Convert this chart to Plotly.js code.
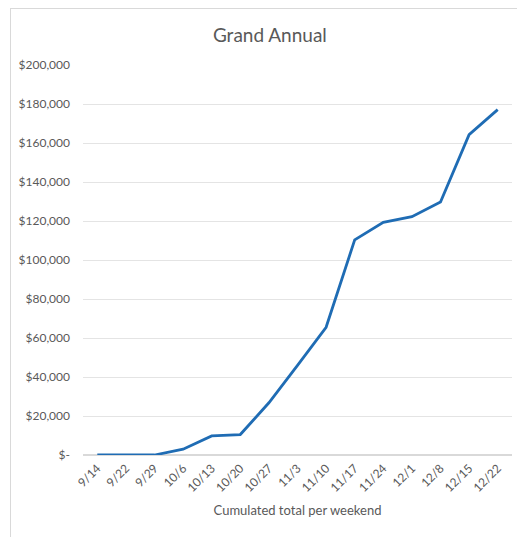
<!DOCTYPE html>
<html>
<head>
<meta charset="utf-8">
<script src="https://cdn.plot.ly/plotly-3.0.1.min.js"></script>
<style>
  html, body { margin: 0; padding: 0; background: #fff; }
  #chart { width: 517px; height: 537px; }
  #frame { position: absolute; left: 10px; top: 8px; width: 530px; height: 560px;
           border: 1px solid #d9d9d9; pointer-events: none; }
</style>
</head>
<body>
<div id="chart"></div>
<div id="frame"></div>
<script>
const weeks = ["9/14","9/22","9/29","10/6","10/13","10/20","10/27","11/3","11/10","11/17","11/24","12/1","12/8","12/15","12/22"];
const totals = [0, 0, 0, 3000, 9800, 10500, 26800, 46000, 65500, 110300, 119300, 122200, 129700, 164300, 177100];
const yTickVals = [0, 20000, 40000, 60000, 80000, 100000, 120000, 140000, 160000, 180000, 200000];
const yTickText = ["$-", "$20,000", "$40,000", "$60,000", "$80,000", "$100,000", "$120,000", "$140,000", "$160,000", "$180,000", "$200,000"];

const font = "Lato, 'Open Sans', sans-serif";
Plotly.newPlot("chart", [{
  type: "scatter", mode: "lines",
  x: weeks, y: totals,
  line: { color: "#1f6cb4", width: 2.8 },
  hoverinfo: "skip"
}], {
  width: 517, height: 537,
  margin: { l: 83, r: 5, t: 65, b: 82 },
  paper_bgcolor: "#fff", plot_bgcolor: "#fff",
  showlegend: false,
  font: { family: font, color: "#595959", size: 12 },
  title: { text: "Grand Annual", font: { family: font, size: 19, color: "#595959" },
           xref: "container", yref: "container", x: 0.522, y: 0.935, xanchor: "center", yanchor: "middle" },
  xaxis: {
    type: "category", tickangle: -45, showgrid: false, zeroline: false,
    showline: false, ticks: "", tickfont: { size: 12, color: "#595959" },
    ticklabelstandoff: 3,
    range: [-0.5, 14.5],
    title: { text: "Cumulated total per weekend", font: { size: 13, color: "#595959" }, standoff: 12 }
  },
  yaxis: {
    range: [0, 200000], tickvals: yTickVals, ticktext: yTickText,
    showgrid: true, gridcolor: "#e4e4e4", gridwidth: 1,
    zeroline: true, zerolinecolor: "#d9d9d9", zerolinewidth: 1.5,
    showline: false, ticks: "", ticklen: 0, ticklabelstandoff: 12,
    tickfont: { size: 12, color: "#595959" }
  }
}, { staticPlot: true, displayModeBar: false });
</script>
</body>
</html>
